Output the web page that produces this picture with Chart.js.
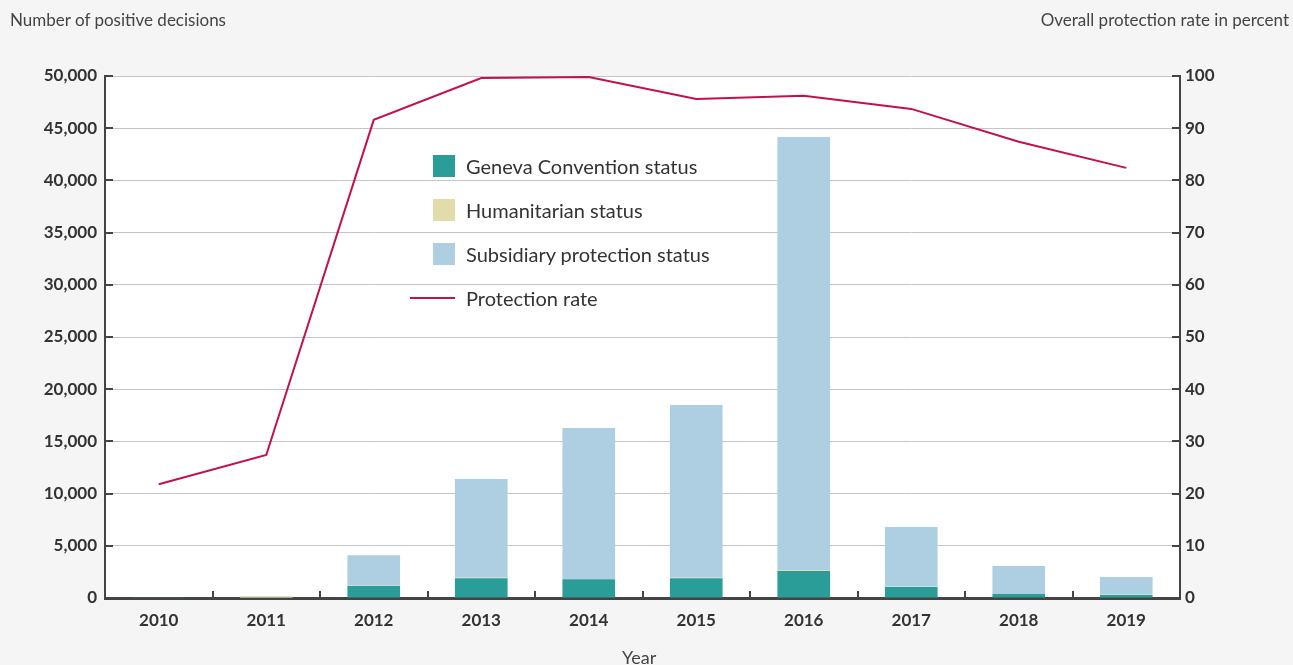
<!DOCTYPE html>
<html>
<head>
<meta charset="utf-8">
<script src="https://cdn.jsdelivr.net/npm/chart.js@4"></script>
<style>
   body { margin: 0; background: #f5f5f5; font-family: Lato, sans-serif; }
   #wrap { position: relative; width: 1293px; height: 665px; }
   .lbl { position: absolute; color: #444; font-size: 17px; white-space: nowrap; line-height: 20px; }
   .leg { position: absolute; font-size: 20px; color: #333; white-space: nowrap; line-height: 22px; }
   .sw { position: absolute; width: 22px; height: 22px; }
</style>
</head>
<body>
<div id="wrap">
   <canvas id="myChart" width="1293" height="665"></canvas>
   <div class="lbl" style="left:10px; top:10px;">Number of positive decisions</div>
   <div class="lbl" style="right:4px; top:10px;">Overall protection rate in percent</div>
   <div class="lbl" style="left:622px; top:647px; font-size:18px;">Year</div>

   <div class="sw" style="left:433px; top:155px; background:#2a9d98;"></div>
   <div class="leg" style="left:466px; top:155px;">Geneva Convention status</div>
   <div class="sw" style="left:433px; top:199px; background:#e2dcaa;"></div>
   <div class="leg" style="left:466px; top:199px;">Humanitarian status</div>
   <div class="sw" style="left:433px; top:243px; background:#aecfe1;"></div>
   <div class="leg" style="left:466px; top:243px;">Subsidiary protection status</div>
   <div style="position:absolute; left:410px; top:297px; width:45px; height:2px; background:#c4104f;"></div>
   <div class="leg" style="left:466px; top:287px;">Protection rate</div>
</div>
<script>
"use strict";

const years = ["2010", "2011", "2012", "2013", "2014", "2015", "2016", "2017", "2018", "2019"];
const genevaStatus = [60, 20, 1150, 1900, 1800, 1900, 2590, 1050, 380, 290];
const humanitarianStatus = [0, 150, 30, 50, 20, 50, 100, 20, 10, 10];
const subsidiaryStatus = [10, 20, 2920, 9450, 14460, 16540, 41470, 5730, 2670, 1710];
const protectionRate = [21.8, 27.4, 91.6, 99.6, 99.8, 95.6, 96.2, 93.7, 87.4, 82.4];
const leftTicks = [0, 5000, 10000, 15000, 20000, 25000, 30000, 35000, 40000, 45000, 50000];

const tickFont = { family: "Lato", size: 17, weight: "bold" };

// white plot area, and all tick marks pointing into the plot
const plotBg = {
   id: "plotBg",
   beforeDraw(chart) {
      const { ctx, chartArea } = chart;
      ctx.save();
      ctx.fillStyle = "#ffffff";
      ctx.fillRect(chartArea.left, chartArea.top, chartArea.right - chartArea.left, chartArea.bottom - chartArea.top);
      ctx.restore();
   },
   afterDraw(chart) {
      const { ctx, chartArea } = chart;
      const { x, y, y2 } = chart.scales;
      ctx.save();
      ctx.strokeStyle = "#444";
      ctx.lineWidth = 2;
      for (let i = 0; i < years.length - 1; i++) {
         const px = Math.round((x.getPixelForValue(i) + x.getPixelForValue(i + 1)) / 2);
         ctx.beginPath();
         ctx.moveTo(px, chartArea.bottom);
         ctx.lineTo(px, chartArea.bottom - 7);
         ctx.stroke();
      }
      y.ticks.forEach((t) => {
         const py = Math.round(y.getPixelForValue(t.value));
         ctx.beginPath();
         ctx.moveTo(chartArea.left, py);
         ctx.lineTo(chartArea.left + 8, py);
         ctx.stroke();
      });
      y2.ticks.forEach((t) => {
         const py = Math.round(y2.getPixelForValue(t.value));
         ctx.beginPath();
         ctx.moveTo(chartArea.right, py);
         ctx.lineTo(chartArea.right - 8, py);
         ctx.stroke();
      });
      ctx.restore();
   },
};

const ctx = document.getElementById("myChart").getContext("2d");
const myChart = new Chart(ctx, {
   type: "bar",
   data: {
      labels: years,
      datasets: [
         {
            type: "line",
            label: "Protection rate",
            data: protectionRate,
            yAxisID: "y2",
            borderColor: "#c4104f",
            borderWidth: 2,
            pointRadius: 0,
            tension: 0,
            order: 0,
         },
         {
            label: "Geneva Convention status",
            data: genevaStatus,
            backgroundColor: "#2a9d98",
            barPercentage: 0.49,
            categoryPercentage: 1,
            order: 1,
         },
         {
            label: "Humanitarian status",
            data: humanitarianStatus,
            backgroundColor: "#e2dcaa",
            barPercentage: 0.49,
            categoryPercentage: 1,
            order: 1,
         },
         {
            label: "Subsidiary protection status",
            data: subsidiaryStatus,
            backgroundColor: "#aecfe1",
            barPercentage: 0.49,
            categoryPercentage: 1,
            order: 1,
         },
      ],
   },
   options: {
      responsive: false,
      animation: false,
      layout: { padding: { top: 76, left: 0, right: 0, bottom: 0 } },
      plugins: {
         legend: { display: false },
         tooltip: { enabled: false },
      },
      scales: {
         x: {
            stacked: true,
            grid: { display: false },
            border: { color: "#444", width: 3 },
            ticks: { color: "#333", font: tickFont, padding: 4 },
            afterFit(scale) { scale.height = 67; },
         },
         y: {
            stacked: true,
            position: "left",
            min: 0,
            max: 50000,
            afterBuildTicks(scale) { scale.ticks = leftTicks.map((v) => ({ value: v })); },
            grid: { color: "#c4c4c4", lineWidth: 1, drawTicks: false },
            border: { color: "#444", width: 2 },
            ticks: {
               color: "#333",
               font: tickFont,
               padding: 8,
               callback: (v) => v.toLocaleString("en-US"),
            },
            afterFit(scale) { scale.width = 105; },
         },
         y2: {
            position: "right",
            min: 0,
            max: 100,
            ticks: { stepSize: 10, color: "#333", font: tickFont, padding: 5 },
            grid: { drawOnChartArea: false, drawTicks: false },
            border: { color: "#444", width: 2 },
            afterFit(scale) { scale.width = 113; },
         },
      },
   },
   plugins: [plotBg],
});
</script>
</body>
</html>
